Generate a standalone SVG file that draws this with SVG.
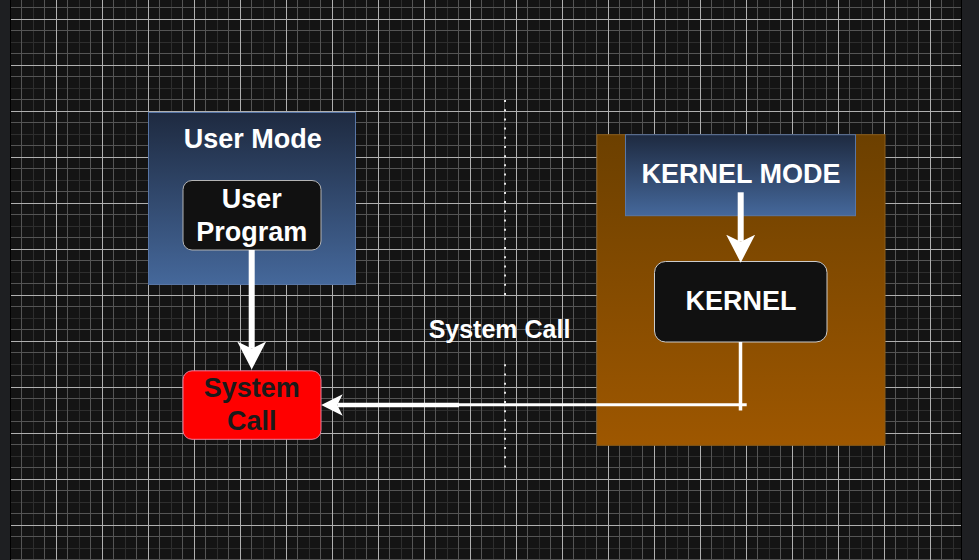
<svg xmlns="http://www.w3.org/2000/svg" width="979" height="560" viewBox="0 0 979 560">
  <style>
    .t { font-family: "Liberation Sans", Arial, sans-serif; font-weight: bold; font-size: 27px; fill: #ffffff; text-anchor: middle; }
    .dark { fill: #1a1a1a; }
    .lbl { font-size: 25px; }
    .conn { stroke: #ffffff; fill: none; }
    .dots { stroke: #e6e6e6; stroke-width: 2; stroke-dasharray: 2 7.19; fill: none; }
  </style>
  <defs>
    <pattern id="grid" patternUnits="userSpaceOnUse" x="10" y="19" width="46" height="46">
      <rect width="46" height="46" fill="#141414"/>
      <path d="M23.5 0V46M0 23.5H46" stroke="#2e2e2e" stroke-width="1"/>
      <path d="M11.5 0V46M34.5 0V46M0 11.5H46M0 34.5H46" stroke="#555555" stroke-width="1"/>
      <path d="M0.5 0V46M0 0.5H46" stroke="#b0b0b0" stroke-width="1"/>
    </pattern>
    <linearGradient id="blue" x1="0" y1="0" x2="0" y2="1">
      <stop offset="0" stop-color="#1e2a40"/>
      <stop offset="1" stop-color="#45689b"/>
    </linearGradient>
    <linearGradient id="orange" x1="0" y1="0" x2="0" y2="1">
      <stop offset="0" stop-color="#6c4000"/>
      <stop offset="1" stop-color="#9e5700"/>
    </linearGradient>
    <marker id="arrowBig" viewBox="0 0 28 29" refX="7" refY="14.5" markerWidth="28" markerHeight="29" markerUnits="userSpaceOnUse" orient="auto">
      <path d="M0,0 L28,14.5 L0,29 L7,14.5 Z" fill="#ffffff"/>
    </marker>
    <marker id="arrowSmall" viewBox="0 0 21.5 21.5" refX="5.4" refY="10.75" markerWidth="21.5" markerHeight="21.5" markerUnits="userSpaceOnUse" orient="auto">
      <path d="M0,0 L21.5,10.75 L0,21.5 L5.4,10.75 Z" fill="#ffffff"/>
    </marker>
  </defs>

  <!-- canvas -->
  <rect x="0" y="0" width="979" height="560" fill="#1e1f22"/>
  <rect x="11" y="0" width="950" height="560" fill="url(#grid)"/>
  <path d="M10.5 0V560M961.5 0V560" stroke="#000000" stroke-width="1"/>

  <!-- separator dotted line -->
  <g id="separator">
    <line class="dots" x1="505" y1="100" x2="505" y2="296"/>
    <line class="dots" x1="505" y1="364.3" x2="505" y2="469"/>
  </g>

  <g id="user-mode">
    <rect x="148.5" y="112.5" width="207" height="172" fill="url(#blue)" stroke="#5876a6" stroke-width="1"/>
    <text class="t" x="252.7" y="148.3">User Mode</text>
  </g>

  <g id="kernel-area">
    <rect x="597" y="134.7" width="288" height="310.6" fill="url(#orange)" stroke="#8c5c18" stroke-width="1"/>
  </g>

  <g id="kernel-mode">
    <rect x="625.5" y="134.7" width="230" height="81" fill="url(#blue)" stroke="#5876a6" stroke-width="1"/>
    <text class="t" x="741" y="183.3">KERNEL MODE</text>
  </g>

  <g id="user-program">
    <rect x="183" y="180.5" width="138" height="69.5" rx="9" ry="9" fill="#111111" stroke="#b4b4b4" stroke-width="1"/>
    <text class="t" x="251.7" y="208.3">User</text>
    <text class="t" x="251.7" y="241.2">Program</text>
  </g>

  <g id="kernel">
    <rect x="654.5" y="261.5" width="172.5" height="80.5" rx="11" ry="11" fill="#111111" stroke="#cccccc" stroke-width="1"/>
    <text class="t" x="741" y="310">KERNEL</text>
  </g>

  <g id="system-call">
    <rect x="183" y="370.8" width="138" height="68.5" rx="9" ry="9" fill="#ff0000" stroke="#ee7c99" stroke-width="1"/>
    <text class="t dark" x="251.7" y="396.5">System</text>
    <text class="t dark" x="251.7" y="430.3">Call</text>
  </g>

  <g id="connectors">
    <line class="conn" x1="251.7" y1="250" x2="251.7" y2="348.5" stroke-width="6" marker-end="url(#arrowBig)"/>
    <line class="conn" x1="740.7" y1="192.3" x2="740.7" y2="241.7" stroke-width="6" marker-end="url(#arrowBig)"/>
    <line class="conn" x1="740.5" y1="342" x2="740.5" y2="410.5" stroke-width="3.5"/>
    <line class="conn" x1="746.7" y1="404.8" x2="458" y2="404.8" stroke-width="3"/>
    <line class="conn" x1="459" y1="405" x2="337.3" y2="405" stroke-width="4.5" marker-end="url(#arrowSmall)"/>
    <text class="t lbl" x="499.5" y="338.3">System Call</text>
  </g>
</svg>
